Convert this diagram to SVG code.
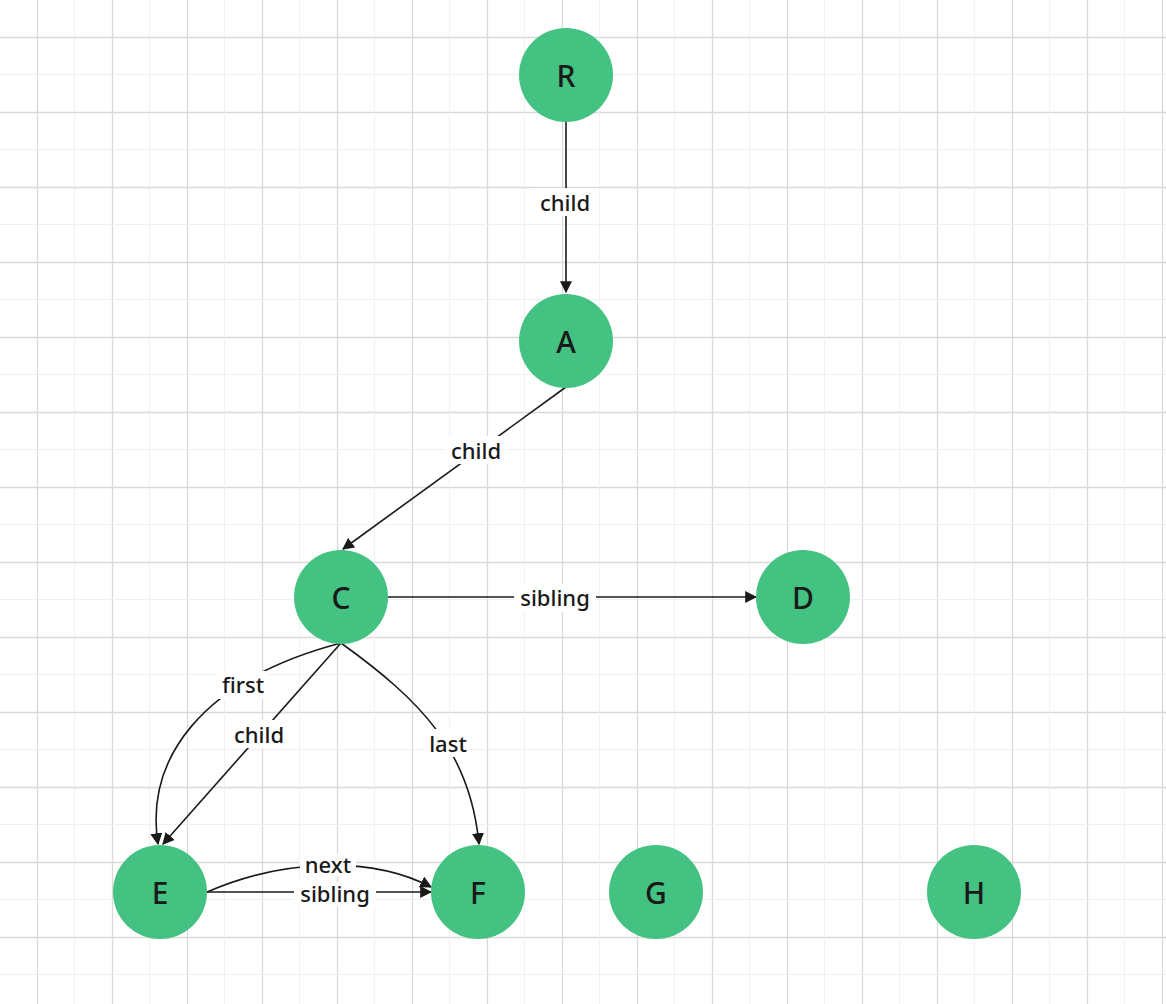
<svg xmlns="http://www.w3.org/2000/svg" width="1166" height="1004" viewBox="0 0 1166 1004">
<defs>
<pattern id="g" x="0" y="0" width="75" height="75" patternUnits="userSpaceOnUse">
<path d="M37.5 0V75M0 37.5H75" stroke="#d9d9d9" stroke-width="1.3"/>
<path d="M75 0V75M0 75H75" stroke="#ececec" stroke-width="1.3"/>
</pattern>
<marker id="ah" viewBox="0 0 10 10" refX="9" refY="5" markerWidth="12" markerHeight="12" markerUnits="userSpaceOnUse" orient="auto"><path d="M0 0L10 5L0 10z" fill="#1a1a1a"/></marker>
</defs>
<style>
.n{fill:#43c281}
.nt{font-family:"Noto Sans","Open Sans",sans-serif;font-size:30px;font-weight:500;fill:#1a1a1a;text-anchor:middle;dominant-baseline:central}
.e{fill:none;stroke:#1a1a1a;stroke-width:1.6;marker-end:url(#ah)}
.l{font-family:"Noto Sans","Open Sans",sans-serif;font-size:22px;font-weight:500;fill:#1a1a1a;text-anchor:middle;dominant-baseline:central}
.lb{fill:#fff}
</style>
<rect width="1166" height="1004" fill="#fff"/>
<rect width="1166" height="1004" fill="url(#g)"/>
<g id="edges">
<path class="e" d="M566 121V292"/>
<path class="e" d="M566 387L343 549"/>
<path class="e" d="M388 597H756"/>
<path class="e" d="M341 643L163 844"/>
<path class="e" d="M341 643C200 680 145 760 158 844"/>
<path class="e" d="M341 643C420 700 470 750 479 844"/>
<path class="e" d="M207 892C280 860 370 855 431 887"/>
<path class="e" d="M207 892H431"/>
<rect class="lb" x="532" y="188" width="66" height="28"/><text class="l" x="565" y="202">child</text>
<rect class="lb" x="445" y="436" width="62" height="28"/><text class="l" x="476" y="450">child</text>
<rect class="lb" x="514" y="584" width="82" height="28"/><text class="l" x="555" y="597">sibling</text>
<rect class="lb" x="218" y="671" width="50" height="28"/><text class="l" x="243" y="684">first</text>
<rect class="lb" x="228" y="720" width="62" height="28"/><text class="l" x="259" y="734">child</text>
<rect class="lb" x="426" y="729" width="44" height="28"/><text class="l" x="448" y="743">last</text>
<rect class="lb" x="300" y="854" width="56" height="22"/><text class="l" x="328" y="864">next</text>
<rect class="lb" x="294" y="882" width="82" height="24"/><text class="l" x="335" y="893">sibling</text>
</g>
<g id="R"><circle class="n" cx="566" cy="75" r="47"/><text class="nt" x="566" y="75">R</text></g>
<g id="A"><circle class="n" cx="566" cy="341" r="47"/><text class="nt" x="566" y="341">A</text></g>
<g id="C"><circle class="n" cx="341" cy="597" r="47"/><text class="nt" x="341" y="597">C</text></g>
<g id="D"><circle class="n" cx="803" cy="597" r="47"/><text class="nt" x="803" y="597">D</text></g>
<g id="E"><circle class="n" cx="160" cy="892" r="47"/><text class="nt" x="160" y="892">E</text></g>
<g id="F"><circle class="n" cx="478" cy="892" r="47"/><text class="nt" x="478" y="892">F</text></g>
<g id="G"><circle class="n" cx="656" cy="892" r="47"/><text class="nt" x="656" y="892">G</text></g>
<g id="H"><circle class="n" cx="974" cy="892" r="47"/><text class="nt" x="974" y="892">H</text></g>
</svg>
